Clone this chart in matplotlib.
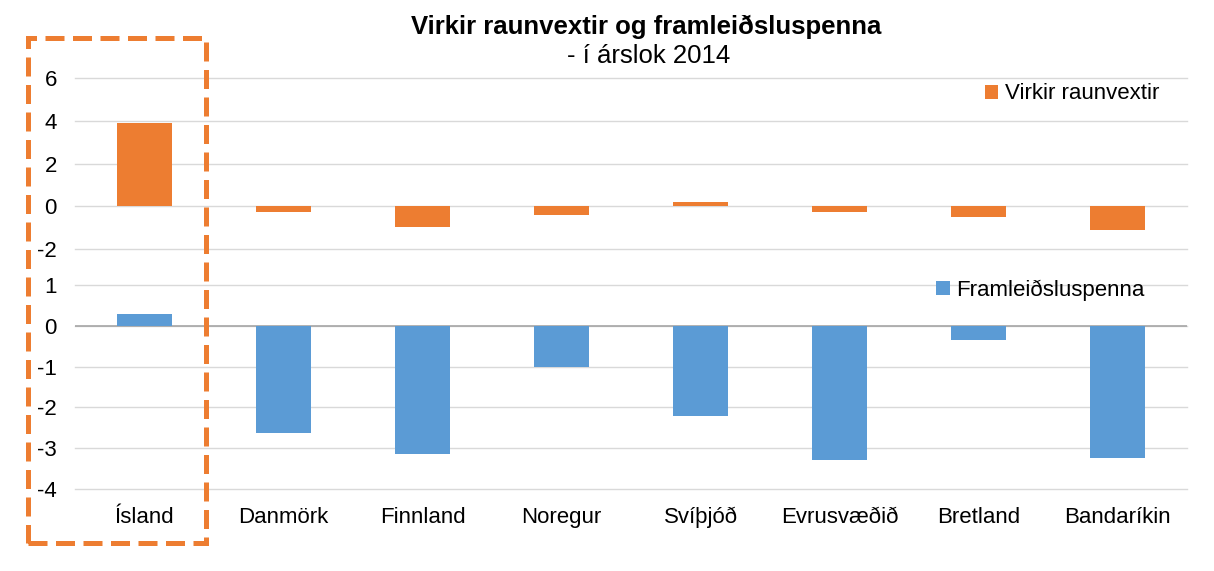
import numpy as np
import matplotlib
matplotlib.use('Agg')
import matplotlib.pyplot as plt
from matplotlib.patches import Rectangle

plt.rcParams['font.family'] = ['Liberation Sans', 'DejaVu Sans']
plt.rcParams['axes.unicode_minus'] = False

#data
countries = ['Ísland', 'Danmörk', 'Finnland', 'Noregur', 'Svíþjóð', 'Evrusvæðið', 'Bretland', 'Bandaríkin']
raunvextir = [3.9, -0.25, -0.95, -0.4, 0.2, -0.25, -0.5, -1.1]
spenna = [0.3, -2.62, -3.13, -1.0, -2.2, -3.28, -0.34, -3.23]

orange = '#ED7D31'
blue = '#5B9BD5'
grid_c = '#D9D9D9'
fs = 16

fig = plt.figure(figsize=(12.14, 5.71), dpi=100)
ax1 = fig.add_axes([0.0618, 0.5639, 0.916, 0.2995])
ax2 = fig.add_axes([0.0618, 0.1436, 0.916, 0.3573])

x = np.arange(len(countries))

ax1.bar(x, raunvextir, width=0.4, color=orange, label='Virkir raunvextir', zorder=3)
ax2.bar(x, spenna, width=0.4, color=blue, label='Framleiðsluspenna', zorder=3)

ax1.set_ylim(-2, 6)
ax1.set_yticks([-2, 0, 2, 4, 6])
ax2.set_ylim(-4, 1)
ax2.set_yticks([-4, -3, -2, -1, 0, 1])

for ax in (ax1, ax2):
    ax.set_xlim(-0.5, len(countries) - 0.5)
    for s in ax.spines.values():
        s.set_visible(False)
    ax.yaxis.grid(True, color=grid_c, linewidth=1, zorder=0)
    for gl in ax.get_ygridlines():
        gl.set_clip_on(False)
    ax.tick_params(axis='y', length=0, labelsize=fs, pad=13)
    ax.tick_params(axis='x', length=0)

ax2.axhline(0, color='#A6A6A6', linewidth=1.2, zorder=2)

ax1.set_xticks([])
ax2.set_xticks(x)
ax2.set_xticklabels(countries, fontsize=fs)
ax2.tick_params(axis='x', pad=13)

ax1.legend(loc='upper right', bbox_to_anchor=(0.993, 1.085), frameon=False, fontsize=fs,
           handlelength=0.6, handleheight=0.6, handletextpad=0.3)
ax2.legend(loc='upper right', bbox_to_anchor=(0.98, 1.124), frameon=False, fontsize=fs,
           handlelength=0.6, handleheight=0.6, handletextpad=0.3)

fig.text(0.532, 0.953, 'Virkir raunvextir og framleiðsluspenna', ha='center', va='center',
         fontsize=18.5, fontweight='bold')
fig.text(0.534, 0.902, '- í árslok 2014', ha='center', va='center', fontsize=18.5)

#dashed box around Iceland
box = Rectangle((28 / 1214, 1 - 543 / 571), 178 / 1214, 505 / 571, transform=fig.transFigure,
                fill=False, edgecolor=orange, linewidth=3.6, linestyle=(0, (3.8, 1.7)))
fig.patches.append(box)

fig.savefig('out.png', dpi=100)
